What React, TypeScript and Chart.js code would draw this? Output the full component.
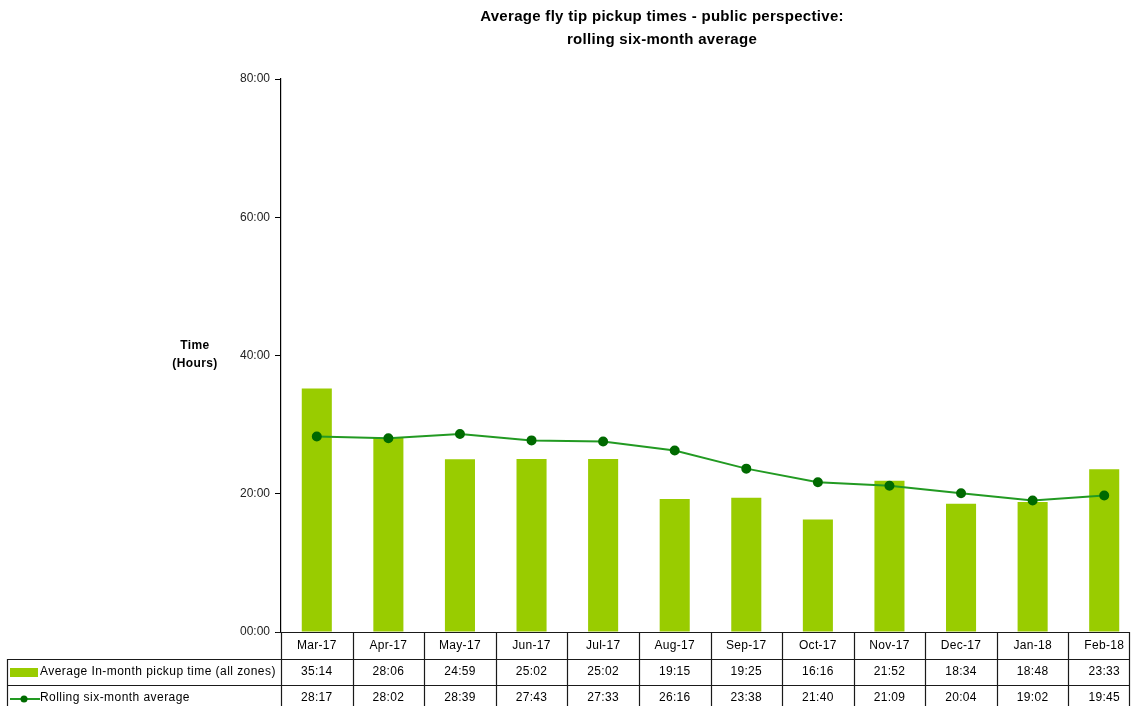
import React, { useEffect, useRef } from "react";
import { Chart, registerables } from "chart.js";

Chart.register(...registerables);

const months = ["Mar-17", "Apr-17", "May-17", "Jun-17", "Jul-17", "Aug-17", "Sep-17", "Oct-17", "Nov-17", "Dec-17", "Jan-18", "Feb-18"];
const inMonthTimes = ["35:14", "28:06", "24:59", "25:02", "25:02", "19:15", "19:25", "16:16", "21:52", "18:34", "18:48", "23:33"];
const rollingTimes = ["28:17", "28:02", "28:39", "27:43", "27:33", "26:16", "23:38", "21:40", "21:09", "20:04", "19:02", "19:45"];
const yTicks = [0, 20, 40, 60, 80];
const seriesNames = ["Average In-month pickup time (all zones)", "Rolling six-month average"];
const titleLines = ["Average fly tip pickup times - public perspective:", "rolling six-month average"];
const yTitleLines = ["Time", "(Hours)"];

const toHours = (s: string) => {
  const [h, m] = s.split(":").map(Number);
  return h + m / 60;
};

const FONT = '"Liberation Sans", Arial, sans-serif';
const BAR_COLOR = "#99CC00";
const LINE_COLOR = "#229A22";
const MARKER_COLOR = "#006A00";
const CANVAS_W = 1150;

const decorPlugin = {
  id: "decor",
  afterDraw(chart: any) {
    const ctx = chart.ctx;
    const x = chart.scales.x;
    const area = chart.chartArea;
    const half = (x.getPixelForValue(1) - x.getPixelForValue(0)) / 2;
    const tableRight = 1129;
    const rowTop = [area.bottom, area.bottom + 27, area.bottom + 53];
    ctx.save();
    // title
    ctx.fillStyle = "#000";
    ctx.font = `bold 15px ${FONT}`;
    (ctx as any).letterSpacing = "0.3px";
    ctx.textAlign = "center";
    ctx.textBaseline = "middle";
    ctx.fillText(titleLines[0], 662, 17);
    ctx.fillText(titleLines[1], 662, 40);
    // y title
    ctx.font = `bold 12px ${FONT}`;
    (ctx as any).letterSpacing = "0.4px";
    ctx.fillText(yTitleLines[0], 195, 346);
    ctx.fillText(yTitleLines[1], 195, 364);

    // table lines
    (ctx as any).letterSpacing = "0px";
    ctx.strokeStyle = "#1a1a1a";
    ctx.lineWidth = 1.2;
    ctx.beginPath();
    ctx.moveTo(area.left - 5, area.bottom + 0.5);
    ctx.lineTo(tableRight, area.bottom + 0.5);
    ctx.moveTo(7, rowTop[1] + 0.5);
    ctx.lineTo(tableRight, rowTop[1] + 0.5);
    ctx.moveTo(7, rowTop[2] + 0.5);
    ctx.lineTo(tableRight, rowTop[2] + 0.5);
    ctx.moveTo(7.5, rowTop[1]);
    ctx.lineTo(7.5, chart.height);
    for (let i = 0; i < months.length; i++) {
      const bx = Math.round(x.getPixelForValue(i) - half) + 0.5;
      ctx.moveTo(bx, area.bottom);
      ctx.lineTo(bx, chart.height);
    }
    ctx.moveTo(tableRight + 0.5, area.bottom);
    ctx.lineTo(tableRight + 0.5, chart.height);
    ctx.stroke();

    // table text
    ctx.fillStyle = "#000";
    ctx.font = `12px ${FONT}`;
    (ctx as any).letterSpacing = "0.3px";
    ctx.textAlign = "center";
    for (let i = 0; i < months.length; i++) {
      const cx = x.getPixelForValue(i);
      ctx.fillText(months[i], cx, rowTop[0] + 14);
      ctx.fillText(inMonthTimes[i], cx, rowTop[1] + 13);
      ctx.fillText(rollingTimes[i], cx, rowTop[2] + 13);
    }
    ctx.textAlign = "left";
    (ctx as any).letterSpacing = "0.45px";
    ctx.fillText(seriesNames[0], 40, rowTop[1] + 13);
    ctx.fillText(seriesNames[1], 40, rowTop[2] + 13);
    ctx.fillStyle = BAR_COLOR;
    ctx.fillRect(10, rowTop[1] + 9, 28, 9);
    ctx.strokeStyle = LINE_COLOR;
    ctx.lineWidth = 2;
    ctx.beginPath();
    ctx.moveTo(10, rowTop[2] + 14);
    ctx.lineTo(40, rowTop[2] + 14);
    ctx.stroke();
    ctx.fillStyle = MARKER_COLOR;
    ctx.beginPath();
    ctx.arc(24, rowTop[2] + 14, 3.5, 0, Math.PI * 2);
    ctx.fill();
    ctx.restore();
  },
};

export default function App() {
  const ref = useRef<HTMLCanvasElement>(null);
  useEffect(() => {
    if (!ref.current) return;
    const chart = new Chart(ref.current, {
      type: "bar",
      data: {
        labels: months,
        datasets: [
          {
            type: "line",
            label: seriesNames[1],
            data: rollingTimes.map(toHours),
            borderColor: LINE_COLOR,
            backgroundColor: MARKER_COLOR,
            pointBackgroundColor: MARKER_COLOR,
            pointBorderColor: MARKER_COLOR,
            pointRadius: 4,
            borderWidth: 2,
            tension: 0,
            order: 0,
          },
          {
            type: "bar",
            label: seriesNames[0],
            data: inMonthTimes.map(toHours),
            backgroundColor: BAR_COLOR,
            categoryPercentage: 1,
            barPercentage: 0.42,
            order: 1,
          },
        ],
      },
      plugins: [decorPlugin],
      options: {
        animation: false,
        responsive: false,
        maintainAspectRatio: false,
        events: [],
        layout: { padding: { top: 79, bottom: 74, left: 0, right: 10 } },
        plugins: { legend: { display: false }, title: { display: false }, tooltip: { enabled: false } },
        scales: {
          x: { display: false, offset: true },
          y: {
            min: 0,
            max: 80,
            afterFit: (s: any) => {
              s.width = 281;
            },
            afterBuildTicks: (s: any) => {
              s.ticks = yTicks.map((v) => ({ value: v }));
            },
            ticks: {
              padding: 5,
              color: "#222",
              font: { family: FONT, size: 12 },
              callback: (v: any) => String(v).padStart(2, "0") + ":00",
            },
            grid: { drawOnChartArea: false, drawTicks: true, tickLength: 6, color: "#000", lineWidth: 1 },
            border: { display: true, color: "#000", width: 1.2 },
          },
        },
      },
    });
    return () => chart.destroy();
  }, []);
  return (
    <div style={{ position: "absolute", left: 0, top: 0, width: 1131, height: 706, overflow: "hidden", background: "#fff" }}>
      <canvas ref={ref} width={CANVAS_W} height={706} style={{ width: CANVAS_W, height: 706, display: "block" }} />
    </div>
  );
}
